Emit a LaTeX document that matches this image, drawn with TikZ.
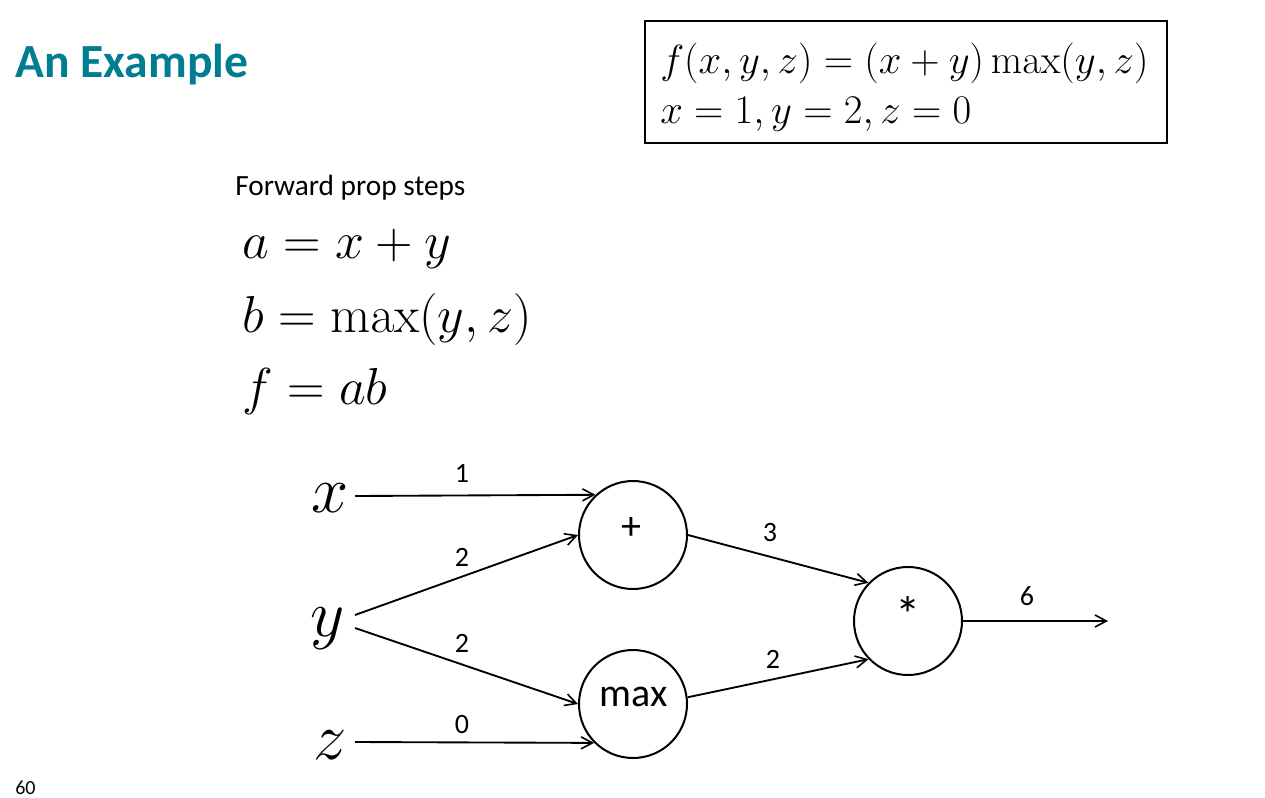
\RequirePackage{fix-cm}
\documentclass[tikz,border=0pt]{standalone}
\usepackage[no-math]{fontspec}
\setmainfont{Carlito}
\usetikzlibrary{arrows.meta}
\definecolor{titleteal}{RGB}{0,125,145}
\begin{document}
\begin{tikzpicture}[x=0.75pt,y=-0.75pt,
  op/.style={draw, circle, line width=1.5pt, minimum size=81pt, inner sep=0pt},
  optext/.style={font=\fontsize{30}{34}\selectfont, inner sep=0pt},
  conn/.style={line width=1.4pt, -{Straight Barb[length=8.5pt,width=9pt,line width=1.2pt]}},
  num/.style={font=\fontsize{21}{25}\selectfont, inner sep=0pt},
  var/.style={font=\fontsize{50}{55}\selectfont, inner sep=0pt, anchor=base},
  eqn/.style={font=\fontsize{39}{44}\selectfont, inner sep=0pt, anchor=base west},
  boxeq/.style={font=\fontsize{30.5}{36}\selectfont, inner sep=0pt, anchor=base west}
]
\useasboundingbox (0,0) rectangle (1265,797);

% title and page number
\node[anchor=base west, font=\fontsize{35.7}{40}\selectfont\bfseries, text=titleteal, inner sep=0pt] (title) at (15,77) {An Example};
\node[anchor=base west, font=\fontsize{15}{17}\selectfont, inner sep=0pt] (pagenum) at (15,794) {60};

% boxed definition
\node[draw, line width=2.2pt, minimum width=391.5pt, minimum height=91.5pt, inner sep=0pt] (box) at (906,82) {};
\node[boxeq] (def1) at (660,73) {$f(x,y,z)=(x+y)\max(y,z)$};
\node[boxeq] (def2) at (660,123) {$x=1,y=2,z=0$};

% forward prop steps
\node[anchor=base west, font=\fontsize{22}{26}\selectfont, inner sep=0pt] (fps) at (235,195) {Forward prop steps};
\node[eqn] (eqa) at (242,258) {$a=x+y$};
\node[eqn] (eqb) at (242,332) {$b=\max(y,z)$};
\node[eqn] (eqf) at (242,404) {$f=ab$};

% graph
\node[var] (x) at (330,512) {$x$};
\node[var] (y) at (328,636) {$y$};
\node[var] (z) at (330,759) {$z$};
\coordinate (xs) at (355,496);
\coordinate (ys1) at (355,615);
\coordinate (ys2) at (355,628);
\coordinate (zs) at (355,742);

\node[op] (plus) at (633,535) {};
\node[op] (max) at (633,704) {};
\node[op] (mul) at (908,621) {};
\node[optext] (plustext) at ([shift={(-2,-7)}]plus) {+};
\node[optext] (maxtext) at ([shift={(1,-7)}]max) {max};
\node[optext, font=\fontsize{38}{40}\selectfont] (multext) at ([shift={(0,-6)}]mul) {*};
\coordinate (out) at (1108,621);

\draw[conn] (xs) -- (plus.133.5);
\draw[conn] (ys1) -- (plus.west);
\draw[conn] (ys2) -- (max.west);
\draw[conn] (zs) -- (max.225.5);
\draw[conn] (plus.east) -- (mul.136);
\draw[conn] (max.7) -- (mul.224);
\draw[conn] (mul.east) -- (out);

\node[num] (n1) at (462,473) {1};
\node[num] (n2a) at (462,557) {2};
\node[num] (n2b) at (462,643) {2};
\node[num] (n0) at (462,725) {0};
\node[num] (n3) at (770,533) {3};
\node[num] (n2c) at (773,659) {2};
\node[num] (n6) at (1027,596) {6};
\end{tikzpicture}
\end{document}
